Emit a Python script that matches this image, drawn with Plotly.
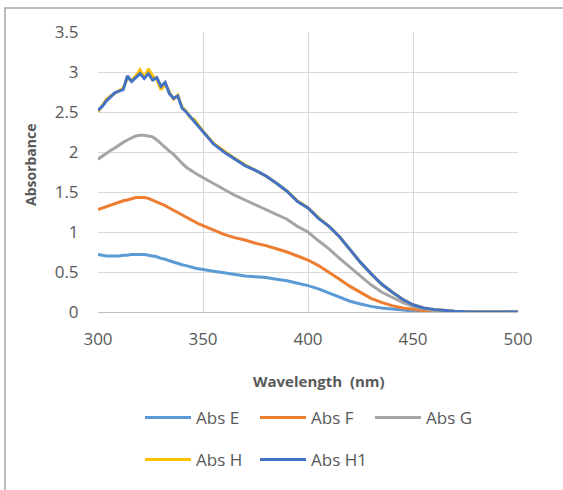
import plotly.graph_objects as go

wavelength = list(range(300, 350, 2)) + list(range(350, 501, 5))

abs_e = [0.72, 0.71, 0.70, 0.70, 0.70, 0.70, 0.71, 0.71, 0.72, 0.72, 0.72, 0.72, 0.71,
         0.70, 0.69, 0.67, 0.66, 0.64, 0.62, 0.61, 0.59, 0.58, 0.56, 0.55, 0.54,
         0.53, 0.51, 0.49, 0.47, 0.45, 0.44, 0.43, 0.41, 0.39, 0.36, 0.33, 0.29, 0.24,
         0.18, 0.135, 0.10, 0.07, 0.05, 0.035, 0.022, 0.013, 0.008, 0.004, 0.002, 0.001,
         0.001, 0.001, 0.001, 0.001, 0.001, 0.001]
abs_f = [1.28, 1.30, 1.32, 1.34, 1.35, 1.37, 1.39, 1.40, 1.42, 1.43, 1.43, 1.43, 1.42,
         1.40, 1.38, 1.35, 1.33, 1.30, 1.27, 1.24, 1.21, 1.18, 1.15, 1.12, 1.10,
         1.08, 1.02, 0.97, 0.93, 0.90, 0.86, 0.83, 0.79, 0.75, 0.70, 0.65, 0.58, 0.50,
         0.41, 0.32, 0.24, 0.17, 0.12, 0.08, 0.05, 0.03, 0.018, 0.01, 0.005, 0.002,
         0.001, 0.001, 0.001, 0.001, 0.001, 0.001]
abs_g = [1.91, 1.95, 1.99, 2.02, 2.05, 2.09, 2.12, 2.15, 2.18, 2.20, 2.21, 2.21, 2.20,
         2.19, 2.15, 2.10, 2.06, 2.01, 1.97, 1.91, 1.86, 1.81, 1.77, 1.74, 1.71,
         1.68, 1.60, 1.53, 1.46, 1.40, 1.34, 1.29, 1.23, 1.16, 1.07, 1.00, 0.89, 0.79,
         0.67, 0.56, 0.44, 0.34, 0.25, 0.18, 0.12, 0.07, 0.04, 0.02, 0.01, 0.005,
         0.002, 0.001, 0.001, 0.001, 0.001, 0.001]
abs_h = [2.50, 2.58, 2.66, 2.70, 2.73, 2.77, 2.80, 2.92, 2.90, 2.95, 3.03, 2.93, 3.04,
         2.95, 2.91, 2.78, 2.85, 2.75, 2.66, 2.71, 2.56, 2.51, 2.43, 2.40, 2.33,
         2.26, 2.11, 2.01, 1.92, 1.84, 1.77, 1.70, 1.61, 1.51, 1.39, 1.30, 1.18, 1.07,
         0.94, 0.78, 0.62, 0.48, 0.35, 0.25, 0.16, 0.09, 0.05, 0.03, 0.015, 0.008,
         0.004, 0.002, 0.001, 0.001, 0.001, 0.001]
abs_h1 = [2.52, 2.57, 2.64, 2.69, 2.74, 2.76, 2.78, 2.95, 2.88, 2.93, 2.98, 2.92, 2.98,
          2.90, 2.93, 2.82, 2.87, 2.73, 2.67, 2.70, 2.55, 2.50, 2.44, 2.38, 2.31,
          2.25, 2.10, 2.00, 1.91, 1.83, 1.77, 1.70, 1.61, 1.51, 1.38, 1.30, 1.17, 1.07,
          0.94, 0.78, 0.62, 0.48, 0.35, 0.25, 0.16, 0.09, 0.05, 0.03, 0.015, 0.008,
          0.004, 0.002, 0.001, 0.001, 0.001, 0.001]

series = [
    ("Abs E", abs_e, "#5B9BD5", "legend"),
    ("Abs F", abs_f, "#ED7D31", "legend"),
    ("Abs G", abs_g, "#A5A5A5", "legend"),
    ("Abs H", abs_h, "#FFC000", "legend2"),
    ("Abs H1", abs_h1, "#4472C4", "legend2"),
]

x_ticks = [300, 350, 400, 450, 500]
y_ticks = [0, 0.5, 1, 1.5, 2, 2.5, 3, 3.5]
y_tick_text = ["0", "0.5", "1", "1.5", "2", "2.5", "3", "3.5"]

FONT = "Open Sans"
GREY = "#595959"

fig = go.Figure()
for name, vals, color, lg in series:
    fig.add_trace(go.Scatter(x=wavelength, y=vals, mode="lines", name=name,
                             line=dict(color=color, width=3), legend=lg))

W, H = 563, 490
L, R, T, B = 98, 45, 32, 178
pw, ph = W - L - R, H - T - B

def px(xp):
    return (xp - L) / pw

def py(yp):
    return (H - B - yp) / ph

legend_common = dict(orientation="h", xanchor="left", yanchor="middle",
                     font=dict(family=FONT, size=17, color=GREY),
                     entrywidth=54, entrywidthmode="pixels",
                     bgcolor="rgba(0,0,0,0)", itemwidth=46)

fig.update_layout(
    width=W, height=H,
    margin=dict(l=L, r=R, t=T, b=B),
    paper_bgcolor="white", plot_bgcolor="white",
    font=dict(family=FONT, color=GREY),
    legend=dict(x=px(140), y=py(418), **legend_common),
    legend2=dict(x=px(140), y=py(460), **legend_common),
    xaxis=dict(range=[300, 500], tickvals=x_ticks, showgrid=True, gridcolor="#d9d9d9",
               gridwidth=1, zeroline=False, showline=True, linecolor="#bfbfbf", linewidth=1,
               ticks="outside", ticklen=12, tickcolor="rgba(0,0,0,0)",
               tickfont=dict(family=FONT, size=17, color=GREY)),
    yaxis=dict(range=[0, 3.5], tickvals=y_ticks, ticktext=y_tick_text, showgrid=True,
               gridcolor="#d9d9d9", gridwidth=1, zeroline=False, showline=False,
               ticks="outside", ticklen=15, tickcolor="rgba(0,0,0,0)",
               tickfont=dict(family=FONT, size=17, color=GREY)),
    shapes=[dict(type="rect", xref="paper", yref="paper",
                 x0=px(5), x1=px(600), y0=py(520), y1=py(8),
                 line=dict(color="#a6a6a6", width=1.5), fillcolor="rgba(0,0,0,0)",
                 layer="below")],
    annotations=[
        dict(text="<b>Wavelength  (nm)</b>", xref="paper", yref="paper",
             x=px(319), y=py(381), showarrow=False, xanchor="center", yanchor="middle",
             font=dict(family=FONT, size=15, color=GREY)),
        dict(text="<b>Absorbance</b>", xref="paper", yref="paper",
             x=px(30), y=py(165), showarrow=False, textangle=-90,
             xanchor="center", yanchor="middle",
             font=dict(family=FONT, size=14, color=GREY)),
    ],
)

fig.write_html("out.html")
